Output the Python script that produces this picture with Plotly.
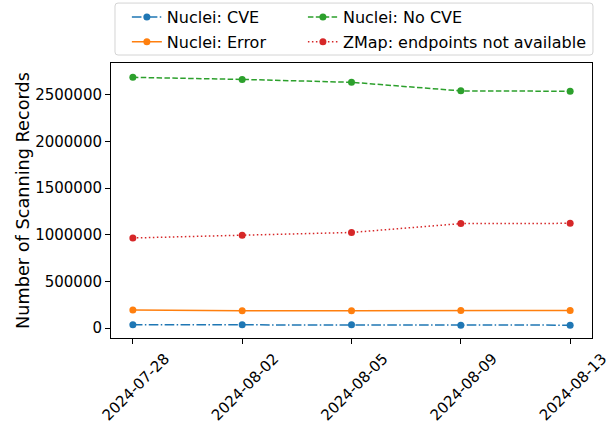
import plotly.graph_objects as go

dates = ["2024-07-28", "2024-08-02", "2024-08-05", "2024-08-09", "2024-08-13"]

nuclei_cve = [35000, 34000, 34000, 31000, 31000]
nuclei_error = [194000, 185000, 186000, 189000, 188000]
nuclei_no_cve = [2689000, 2667000, 2636000, 2544000, 2540000]
zmap_na = [966000, 996000, 1025000, 1120000, 1123000]

font = "DejaVu Sans"

fig = go.Figure()

# two columns, like matplotlib ncol=2
series = [
    ("Nuclei: CVE", nuclei_cve, "#1f77b4", "9.6px,2.4px,1.5px,2.4px", "legend"),
    ("Nuclei: Error", nuclei_error, "#ff7f0e", "solid", "legend"),
    ("Nuclei: No CVE", nuclei_no_cve, "#2ca02c", "5.5px,2.4px", "legend2"),
    ("ZMap: endpoints not available", zmap_na, "#d62728", "1.5px,2.5px", "legend2"),
]
for name, vals, color, dash, leg in series:
    fig.add_trace(
        go.Scatter(x = dates,
                y = vals,
                name = name,
                legend = leg,
                legendgroup = name,
                mode = "lines+markers",
                line = dict(color = color, width = 1.5, dash = dash),
                marker = dict(color = color, size = 7)))

leg_common = dict(orientation = "v", yref = "container", y = 1.0, yanchor = "top",
                  font = dict(size = 16), bgcolor = "rgba(0,0,0,0)", borderwidth = 0,
                  tracegroupgap = 1)

# rounded legend frame (paper coords, ~3px corners)
x0, x1, y0, y1 = 0.0083, 1.002, 1.029, 1.218
rx, ry = 3 / 481, 3 / 275
frame = (f"M {x0 + rx},{y0} L {x1 - rx},{y0} Q {x1},{y0} {x1},{y0 + ry} "
         f"L {x1},{y1 - ry} Q {x1},{y1} {x1 - rx},{y1} "
         f"L {x0 + rx},{y1} Q {x0},{y1} {x0},{y1 - ry} "
         f"L {x0},{y0 + ry} Q {x0},{y0} {x0 + rx},{y0} Z")

fig.update_layout(
    width = 611,
    height = 423,
    margin = dict(l = 111, r = 19, t = 63, b = 85),
    paper_bgcolor = "white",
    plot_bgcolor = "white",
    font = dict(family = font, color = "black", size = 15),
    showlegend = True,
    legend = dict(leg_common, x = 0.033, xanchor = "left"),
    legend2 = dict(leg_common, x = 0.399, xanchor = "left"),
    shapes = [dict(type = "path", path = frame, xref = "paper", yref = "paper",
                   line = dict(color = "#d4d4d4", width = 1), layer = "below")],
    xaxis = dict(type = "category", range = [-0.2, 4.2], tickangle = -45, automargin = False,
                 showline = True, linecolor = "black", linewidth = 1, mirror = True,
                 ticks = "outside", ticklen = 5, tickcolor = "black",
                 ticklabelshift = 32, showgrid = False, zeroline = False,
                 tickfont = dict(size = 15)),
    yaxis = dict(range = [-107000, 2843000], tickvals = [0, 500000, 1000000, 1500000, 2000000, 2500000],
                 tickformat = "d", showline = True, linecolor = "black", linewidth = 1, mirror = True,
                 ticks = "outside", ticklen = 5, tickcolor = "black", automargin = False,
                 showgrid = False, zeroline = False, tickfont = dict(size = 15),
                 title = dict(text = "Number of Scanning Records", font = dict(size = 17.7), standoff = 0)),
)

# page body has a default 8px margin; drop it so the figure sits at the window corner
fig.write_html("out.html", config = {"displayModeBar": False},
               post_script = "document.body.style.margin = '0';")
